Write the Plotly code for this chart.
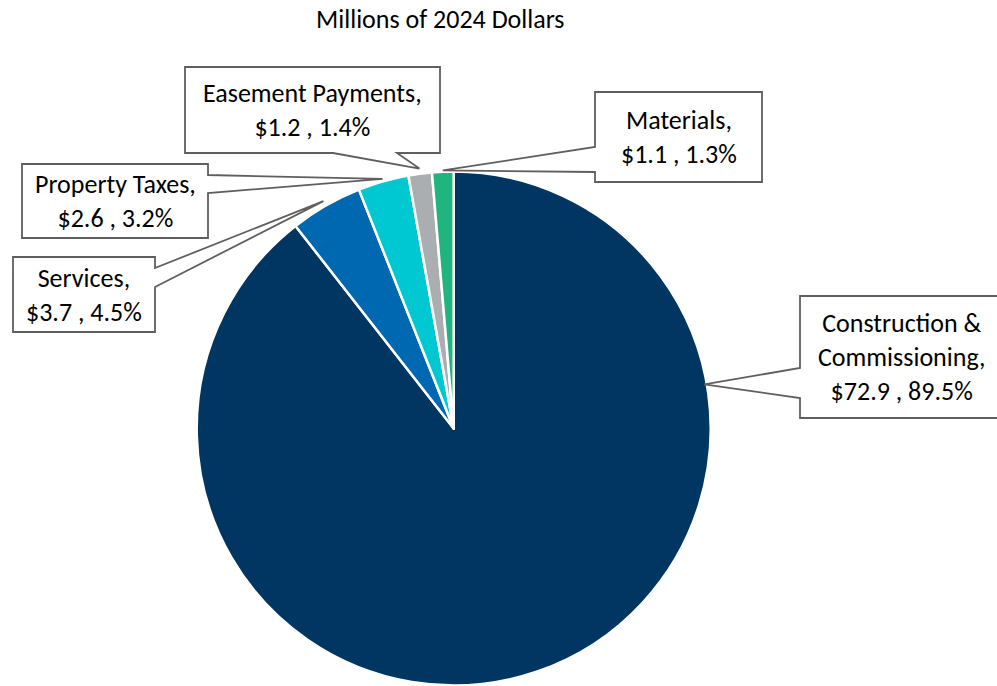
import math
import plotly.graph_objects as go

# Cost breakdown, millions of 2024 dollars
categories = ["Construction &<br>Commissioning", "Services", "Property Taxes",
              "Easement Payments", "Materials"]
values = [72.9, 3.7, 2.6, 1.2, 1.1]
percent_labels = [89.5, 4.5, 3.2, 1.4, 1.3]
colors = ["#003661", "#0067b1", "#00c8d3", "#abaeb0", "#20b47f"]

W, H = 997, 686
CX, CY, R = 453.7, 428.5, 257.0   # pie centre and radius in pixels

FONT = "Carlito, Calibri, Lato, sans-serif"
FSIZE = 26
LINE = "#5f5f5f"

total = sum(values)
fracs = [v / total for v in values]
starts = [sum(fracs[:i]) for i in range(len(fracs))]


def pie_point(angle_deg, rfac=1.0):
    a = math.radians(angle_deg)
    return CX + R * rfac * math.sin(a), CY - R * rfac * math.cos(a)


def mid_angle(i):
    return (starts[i] + fracs[i] / 2) * 360.0


# Callout boxes: (L, T, R, B), side of the pointer, pointer base, anchor angle, radius factor
callouts = [
    dict(box=(800, 296, 1003, 418), side="left", base=(368, 398), angle=80.0, rfac=0.99),
    dict(box=(13, 257, 155, 332), side="right", base=(268, 287), angle=mid_angle(1), rfac=1.02),
    dict(box=(22, 164, 208, 238), side="right", base=(175, 193), angle=mid_angle(2), rfac=1.01),
    dict(box=(185, 67, 440, 153), side="bottom", base=(333, 397), angle=mid_angle(3), rfac=1.02),
    dict(box=(595, 92, 762, 182), side="left", base=(147, 172), angle=mid_angle(4), rfac=1.005),
]


def callout_path(box, side, base, tip):
    L, T, Rr, B = box
    b1, b2 = base
    tx, ty = tip
    pts = [(L, T)]
    if side == "top":
        pts += [(b1, T), (tx, ty), (b2, T)]
    pts.append((Rr, T))
    if side == "right":
        pts += [(Rr, b1), (tx, ty), (Rr, b2)]
    pts.append((Rr, B))
    if side == "bottom":
        pts += [(b2, B), (tx, ty), (b1, B)]
    pts.append((L, B))
    if side == "left":
        pts += [(L, b2), (tx, ty), (L, b1)]
    return "M " + " L ".join(f"{x:.1f},{y:.1f}" for x, y in pts) + " Z"


fig = go.Figure()

fig.add_trace(go.Pie(
    labels=categories,
    values=values,
    sort=False,
    direction="clockwise",
    rotation=0,
    marker=dict(colors=colors, line=dict(color="white", width=2.5)),
    textinfo="none",
    hoverinfo="label+value+percent",
    showlegend=False,
    domain=dict(x=[(CX - R) / W, (CX + R) / W],
                y=[max(0.0, 1 - (CY + R) / H), 1 - (CY - R) / H]),
))

shapes = []
annotations = []
for i, c in enumerate(callouts):
    tip = pie_point(c["angle"], c["rfac"])
    shapes.append(dict(
        type="path", xref="x", yref="y",
        path=callout_path(c["box"], c["side"], c["base"], tip),
        fillcolor="white", line=dict(color=LINE, width=1.8), layer="above",
    ))
    L, T, Rr, B = c["box"]
    text = f"{categories[i]},<br>${values[i]:.1f} , {percent_labels[i]:.1f}%"
    annotations.append(dict(
        x=(L + Rr) / 2, y=(T + B) / 2, xref="x", yref="y",
        text=text, showarrow=False, xanchor="center", yanchor="middle",
        font=dict(family=FONT, size=FSIZE, color="#000000"), align="center",
    ))

annotations.append(dict(
    x=440.5, y=19, xref="x", yref="y", text="Millions of 2024 Dollars",
    showarrow=False, xanchor="center", yanchor="middle",
    font=dict(family=FONT, size=FSIZE, color="#000000"),
))

fig.update_layout(
    width=W, height=H,
    margin=dict(l=0, r=0, t=0, b=0),
    paper_bgcolor="white", plot_bgcolor="rgba(0,0,0,0)",
    xaxis=dict(range=[0, W], visible=False, domain=[0, 1], fixedrange=True),
    yaxis=dict(range=[H, 0], visible=False, domain=[0, 1], fixedrange=True),
    shapes=shapes,
    annotations=annotations,
)

fig.write_html("out.html")
